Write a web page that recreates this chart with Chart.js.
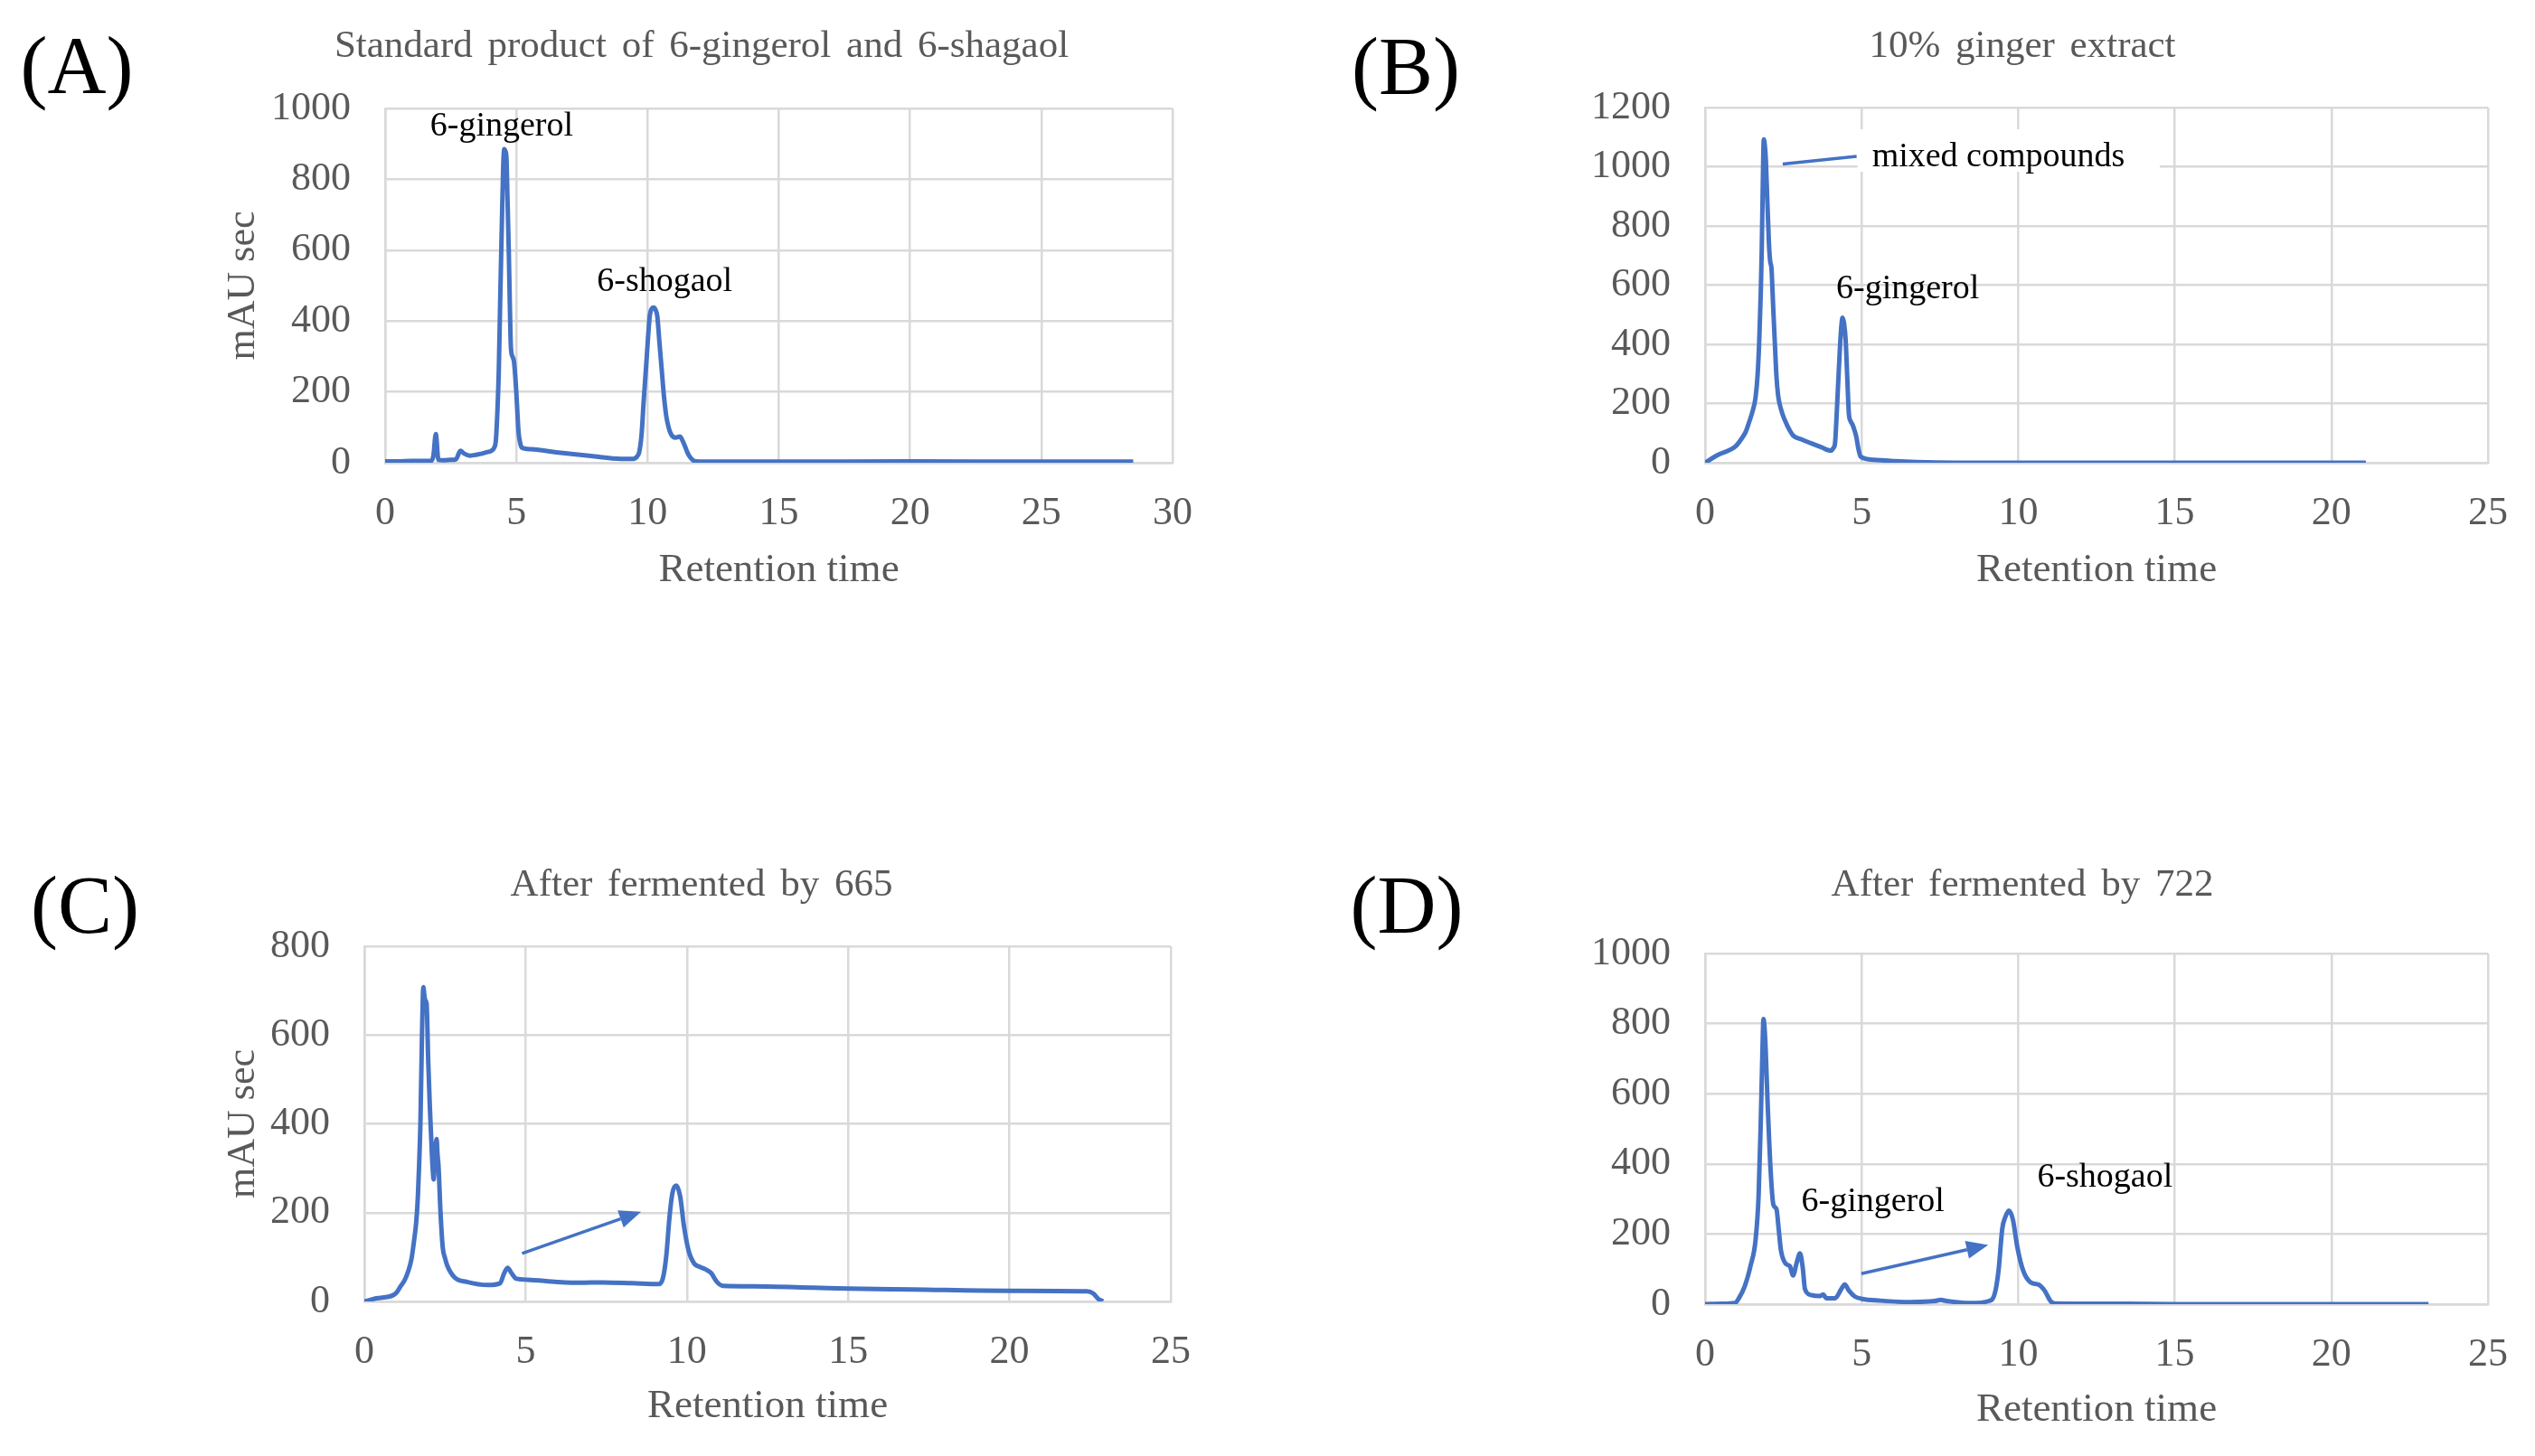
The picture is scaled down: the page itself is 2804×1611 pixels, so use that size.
<!DOCTYPE html>
<html>
<head>
<meta charset="utf-8">
<title>HPLC chromatograms of ginger extract</title>
<script src="https://cdn.jsdelivr.net/npm/chart.js@4.4.1/dist/chart.umd.min.js"></script>
<style>
  html, body { margin: 0; padding: 0; background: #fff; }
  #sheet { position: relative; width: 2804px; height: 1611px; overflow: hidden; }
  #sheet canvas { position: absolute; }
</style>
</head>
<body>
<div id="sheet">
  <canvas id="chartA" width="1402" height="805" style="left:0;top:0;width:1402px;height:805px"></canvas>
  <canvas id="chartB" width="1402" height="805" style="left:1402px;top:0;width:1402px;height:805px"></canvas>
  <canvas id="chartC" width="1402" height="806" style="left:0;top:805px;width:1402px;height:806px"></canvas>
  <canvas id="chartD" width="1402" height="806" style="left:1402px;top:805px;width:1402px;height:806px"></canvas>
</div>
<script>
// (A) standard product of 6-gingerol and 6-shogaol
const timeA = [0, 0.5, 1.0, 1.5, 1.75, 1.84, 1.93, 2.03, 2.2, 2.5, 2.7, 2.87, 3.01, 3.24, 3.5, 3.7, 3.9, 4.05,
  4.15, 4.22, 4.28, 4.33, 4.39, 4.45, 4.5, 4.54, 4.58, 4.62, 4.66, 4.71, 4.75, 4.79, 4.85, 4.91, 4.99, 5.04,
  5.08, 5.14, 5.2, 5.54, 6.69, 7.84, 8.99, 9.45, 9.6, 9.68, 9.77, 9.85, 9.97, 10.08, 10.16, 10.23, 10.3,
  10.37, 10.45, 10.54, 10.62, 10.71, 10.8, 10.89, 11.06, 11.23, 11.32, 11.4, 11.5, 11.57, 11.7, 11.8,
  13, 15, 20, 25, 28.5];
const signalA = [4, 4, 5, 5, 5, 20, 81, 8, 7, 8, 10, 34, 26, 20, 23, 26, 30, 34,
  42, 64, 150, 260, 480, 685, 840, 885, 880, 864, 750, 600, 450, 328, 300, 285, 208, 140,
  89, 58, 43, 38, 28, 19, 11, 11, 18, 30, 80, 174, 302, 413, 435, 438, 432,
  413, 340, 260, 190, 132, 100, 81, 71, 74, 64, 51, 32, 21, 9, 4,
  3, 3, 4, 3, 3];

// (B) 10% ginger extract
const timeB = [0, 0.4, 0.98, 1.17, 1.3, 1.41, 1.52, 1.61, 1.68, 1.73, 1.78, 1.81, 1.845, 1.875, 1.91, 1.94,
  1.99, 2.04, 2.08, 2.12, 2.15, 2.18, 2.23, 2.28, 2.33, 2.38, 2.47, 2.57, 2.7, 2.81, 3.1, 3.38, 3.7, 4.01,
  4.1, 4.15, 4.21, 4.27, 4.33, 4.39, 4.44, 4.49, 4.54, 4.59, 4.65, 4.71, 4.77, 4.83, 4.9, 4.97, 5.4, 6.08,
  6.75, 8, 21.1];
const signalB = [0, 26, 56, 82, 105, 138, 175, 219, 300, 413, 580, 719, 950, 1092, 1070, 1026,
  880, 740, 680, 658, 590, 515, 400, 291, 230, 199, 165, 138, 110, 92, 78, 66, 53, 41,
  50, 66, 180, 311, 430, 490, 470, 413, 290, 168, 140, 128, 110, 87, 45, 20, 10, 5,
  2, 0, 0];

// (C) after fermented by 665
const timeC = [0, 0.37, 0.89, 1.0, 1.12, 1.25, 1.36, 1.46, 1.54, 1.61, 1.66, 1.7, 1.74, 1.79, 1.83, 1.86,
  1.89, 1.93, 1.98, 2.03, 2.07, 2.11, 2.15, 2.2, 2.24, 2.27, 2.3, 2.36, 2.43, 2.5, 2.57, 2.8, 3.18, 3.83,
  4.21, 4.32, 4.44, 4.56, 4.72, 5.05, 5.98, 6.7, 7.38, 8.32, 9.11, 9.25, 9.36, 9.46, 9.55, 9.67, 9.79,
  9.91, 10.05, 10.23, 10.4, 10.56, 10.75, 10.93, 11.12, 12.06, 13.93, 15, 17, 20, 22.4, 22.6, 22.75, 22.9];
const signalC = [0, 7, 14, 20, 34, 48, 68, 95, 136, 180, 237, 310, 407, 610, 708, 690,
  678, 671, 542, 440, 373, 310, 275, 340, 366, 330, 305, 203, 122, 98, 81, 54, 44, 37,
  41, 61, 76, 64, 51, 49, 44, 42, 43, 41, 39, 51, 102, 190, 244, 261, 237,
  169, 115, 85, 78, 73, 64, 44, 35, 34, 31, 29, 27, 24, 23, 18, 6, 0];

// (D) after fermented by 722
const timeD = [0, 0.5, 0.95, 1.08, 1.27, 1.46, 1.61, 1.71, 1.78, 1.83, 1.865, 1.92, 2.0, 2.09, 2.18, 2.28,
  2.35, 2.42, 2.57, 2.71, 2.81, 2.92, 3.03, 3.12, 3.19, 3.38, 3.67, 3.77, 3.87, 4.15, 4.35, 4.46, 4.59,
  4.78, 5.02, 5.6, 6.56, 7.33, 7.52, 7.71, 8.48, 9.06, 9.25, 9.37, 9.49, 9.59, 9.7, 9.83, 9.97, 10.16,
  10.4, 10.64, 10.84, 11.03, 11.17, 13.5, 15, 23.1];
const signalD = [0, 1, 3, 17, 52, 112, 181, 310, 525, 714, 813, 757, 568, 387, 284, 271,
  215, 155, 116, 108, 82, 116, 145, 103, 43, 26, 23, 28, 17, 17, 43, 56, 39,
  22, 15, 10, 6, 9, 12, 9, 3, 9, 30, 95, 215, 249, 267, 241, 163, 95,
  62, 56, 39, 9, 2, 1, 0, 0];

// tick labels
const xTicks30 = [0, 5, 10, 15, 20, 25, 30];
const xTicks25 = [0, 5, 10, 15, 20, 25];
const yTicks1000 = [0, 200, 400, 600, 800, 1000];
const yTicks1200 = [0, 200, 400, 600, 800, 1000, 1200];
const yTicks800 = [0, 200, 400, 600, 800];

const blue = '#4472C4';
const grey = '#595959';
const gridGrey = '#d9d9d9';
const serif = '"Liberation Serif", "Times New Roman", serif';

// titles, panel letters, labels and arrows drawn on top of the plot
const panelText = {
  id: 'panelText',
  afterDatasetsDraw(chart, args, o) {
    const ctx = chart.ctx;
    const px = v => chart.scales.x.getPixelForValue(v);
    const py = v => chart.scales.y.getPixelForValue(v);
    ctx.save();
    ctx.textAlign = 'center';
    ctx.textBaseline = 'middle';

    ctx.fillStyle = '#000';
    ctx.font = '90px ' + serif;
    ctx.fillText(o.label, o.labelAt[0], o.labelAt[1]);

    ctx.fillStyle = grey;
    ctx.font = '43px ' + serif;
    ctx.wordSpacing = '6px';
    ctx.fillText(o.title, o.titleAt[0], o.titleAt[1]);
    ctx.wordSpacing = '0px';

    (o.boxes || []).forEach(b => {
      ctx.fillStyle = '#fff';
      ctx.fillRect(px(b.x0), py(b.y1), px(b.x1) - px(b.x0), py(b.y0) - py(b.y1));
    });

    ctx.strokeStyle = blue;
    ctx.fillStyle = blue;
    ctx.lineWidth = 3.5;
    (o.leaders || []).forEach(l => {
      ctx.beginPath();
      ctx.moveTo(px(l.from[0]), py(l.from[1]));
      ctx.lineTo(px(l.to[0]), py(l.to[1]));
      ctx.stroke();
    });
    (o.arrows || []).forEach(a => {
      const x0 = px(a.from[0]), y0 = py(a.from[1]);
      const x1 = px(a.to[0]), y1 = py(a.to[1]);
      const ang = Math.atan2(y1 - y0, x1 - x0);
      const head = 24, half = 10;
      const bx = x1 - head * Math.cos(ang), by = y1 - head * Math.sin(ang);
      ctx.beginPath();
      ctx.moveTo(x0, y0);
      ctx.lineTo(bx, by);
      ctx.stroke();
      ctx.beginPath();
      ctx.moveTo(x1, y1);
      ctx.lineTo(bx + half * Math.sin(ang), by - half * Math.cos(ang));
      ctx.lineTo(bx - half * Math.sin(ang), by + half * Math.cos(ang));
      ctx.closePath();
      ctx.fill();
    });

    ctx.fillStyle = '#000';
    ctx.font = '38px ' + serif;
    (o.notes || []).forEach(n => {
      ctx.textAlign = n.align || 'center';
      ctx.fillText(n.text, px(n.x), py(n.y));
    });
    ctx.restore();
  }
};

function makeChart(id, times, signal, p) {
  const canvas = document.getElementById(id);
  const W = canvas.width, H = canvas.height;
  const xHeight = 150;
  return new Chart(canvas, {
    type: 'line',
    data: {
      datasets: [{
        data: times.map((t, i) => ({ x: t, y: signal[i] })),
        borderColor: blue,
        borderWidth: 5,
        pointRadius: 0,
        fill: false,
        cubicInterpolationMode: 'monotone'
      }]
    },
    plugins: [panelText],
    options: {
      responsive: false,
      animation: false,
      devicePixelRatio: 1,
      layout: {
        padding: { left: 0, top: p.area.top, right: W - p.area.right, bottom: H - p.area.bottom - xHeight }
      },
      scales: {
        x: {
          type: 'linear',
          min: p.xTicks[0],
          max: p.xTicks[p.xTicks.length - 1],
          afterBuildTicks: s => { s.ticks = p.xTicks.map(v => ({ value: v })); },
          afterFit: s => { s.height = xHeight; },
          grid: { color: gridGrey, lineWidth: 2.5, drawTicks: false },
          border: { color: gridGrey, width: 2.5 },
          ticks: { color: grey, padding: 30, font: { family: serif, size: 44 }, callback: v => String(v) },
          title: {
            display: true, text: 'Retention time', color: grey,
            font: { family: serif, size: 45 }, padding: { top: 0, bottom: p.xTitlePad }
          }
        },
        y: {
          min: p.yTicks[0],
          max: p.yTicks[p.yTicks.length - 1],
          afterBuildTicks: s => { s.ticks = p.yTicks.map(v => ({ value: v })); },
          afterFit: s => { s.width = p.area.left; },
          grid: { color: gridGrey, lineWidth: 2.5, drawTicks: false },
          border: { color: gridGrey, width: 2.5 },
          ticks: { color: grey, padding: 38, font: { family: serif, size: 44 }, callback: v => String(v) },
          title: {
            display: !!p.yTitle, text: p.yTitle || '', color: grey,
            font: { family: serif, size: 44 }, padding: { top: 243, bottom: 0 }
          }
        }
      },
      plugins: {
        legend: { display: false },
        tooltip: { enabled: false },
        panelText: p.text
      }
    }
  });
}

makeChart('chartA', timeA, signalA, {
  area: { left: 426, top: 120, right: 1297, bottom: 512 },
  xTicks: xTicks30, yTicks: yTicks1000, yTitle: 'mAU sec', xTitlePad: 4,
  text: {
    label: '(A)', labelAt: [85, 79],
    title: 'Standard product of 6-gingerol and 6-shagaol', titleAt: [776, 52],
    notes: [
      { text: '6-gingerol', x: 4.44, y: 949 },
      { text: '6-shogaol', x: 10.65, y: 510 }
    ]
  }
});

makeChart('chartB', timeB, signalB, {
  area: { left: 484, top: 119, right: 1352, bottom: 512 },
  xTicks: xTicks25, yTicks: yTicks1200, xTitlePad: 4,
  text: {
    label: '(B)', labelAt: [153, 80],
    title: '10% ginger extract', titleAt: [835, 52],
    boxes: [{ x0: 4.87, x1: 14.52, y0: 983, y1: 1127 }],
    leaders: [{ from: [2.48, 1009], to: [4.84, 1035] }],
    notes: [
      { text: 'mixed compounds', x: 5.33, y: 1033, align: 'left' },
      { text: '6-gingerol', x: 6.47, y: 586 }
    ]
  }
});

makeChart('chartC', timeC, signalC, {
  area: { left: 403, top: 242, right: 1295, bottom: 635 },
  xTicks: xTicks25, yTicks: yTicks800, yTitle: 'mAU sec', xTitlePad: 7,
  text: {
    label: '(C)', labelAt: [94, 203],
    title: 'After fermented by 665', titleAt: [776, 175],
    arrows: [{ from: [4.89, 108], to: [8.58, 202] }]
  }
});

makeChart('chartD', timeD, signalD, {
  area: { left: 484, top: 250, right: 1352, bottom: 638 },
  xTicks: xTicks25, yTicks: yTicks1000, xTitlePad: 6,
  text: {
    label: '(D)', labelAt: [154, 203],
    title: 'After fermented by 722', titleAt: [835, 175],
    arrows: [{ from: [4.99, 87], to: [9.04, 169] }],
    notes: [
      { text: '6-gingerol', x: 5.36, y: 292 },
      { text: '6-shogaol', x: 12.77, y: 361 }
    ]
  }
});
</script>
</body>
</html>
